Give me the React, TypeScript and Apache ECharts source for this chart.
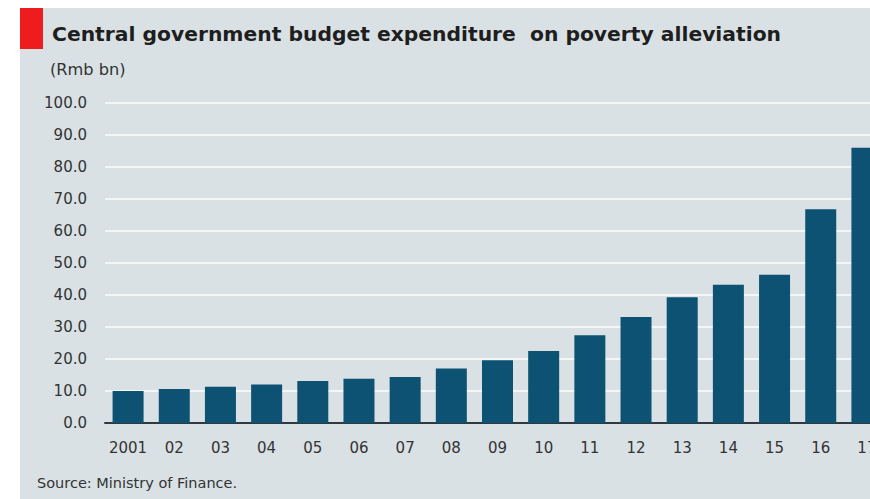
import React, { useEffect, useRef } from "react";
import * as echarts from "echarts";

const categories = ["2001", "02", "03", "04", "05", "06", "07", "08", "09", "10", "11", "12", "13", "14", "15", "16", "17"];
const values = [10.0, 10.6, 11.3, 12.0, 13.1, 13.8, 14.4, 17.0, 19.6, 22.5, 27.4, 33.1, 39.3, 43.2, 46.3, 66.8, 86.0];
const titleText = "Central government budget expenditure  on poverty alleviation";
const unitText = "(Rmb bn)";
const sourceText = "Source: Ministry of Finance.";

const FONT = "DejaVu Sans";

export default function App() {
  const ref = useRef<HTMLDivElement>(null);
  useEffect(() => {
    document.body.style.margin = "0";
    document.body.style.overflow = "hidden";
    const chart = echarts.init(ref.current!, null, { renderer: "svg" });
    chart.setOption({
      animation: false,
      backgroundColor: "#ffffff",
      graphic: [
        { type: "rect", left: 20, top: 8, shape: { width: 880, height: 491 }, style: { fill: "#d9e1e4" }, z: -10 },
        { type: "rect", left: 20, top: 8, shape: { width: 23, height: 41 }, style: { fill: "#ee1c1c" } },
        {
          type: "text", left: 52, top: 24,
          style: { text: titleText, font: `bold 20.3px "${FONT}"`, fill: "#1e1e1e" },
        },
        {
          type: "text", left: 50, top: 63, scaleX: 1.08,
          style: { text: unitText, font: `15px "${FONT}"`, fill: "#333333" },
        },
        {
          type: "text", left: 37, top: 475,
          style: { text: sourceText, font: `14.5px "${FONT}"`, fill: "#333333" },
        },
      ],
      grid: { left: 105, right: 0, top: 103, bottom: 76, containLabel: false },
      xAxis: {
        type: "category",
        data: categories,
        axisLine: { show: true, lineStyle: { color: "#2e3a40", width: 2 } },
        axisTick: { show: false },
        axisLabel: { color: "#333333", fontFamily: FONT, fontSize: 15, margin: 17, interval: 0 },
      },
      yAxis: {
        type: "value",
        min: 0,
        max: 100,
        interval: 10,
        axisLine: { show: false },
        axisTick: { show: false },
        splitLine: { lineStyle: { color: "#f4f7f8", width: 2 } },
        axisLabel: {
          color: "#333333", fontFamily: FONT, fontSize: 15, margin: 18,
          formatter: (v: number) => v.toFixed(1),
        },
      },
      series: [
        {
          type: "bar",
          data: values,
          barWidth: 31,
          itemStyle: { color: "#0d5273" },
        },
      ],
    });
    return () => chart.dispose();
  }, []);
  return (
    <div style={{ position: "absolute", left: 0, top: 0, width: 870, height: 499, overflow: "hidden" }}>
      <div ref={ref} style={{ width: 890, height: 499 }} />
    </div>
  );
}
